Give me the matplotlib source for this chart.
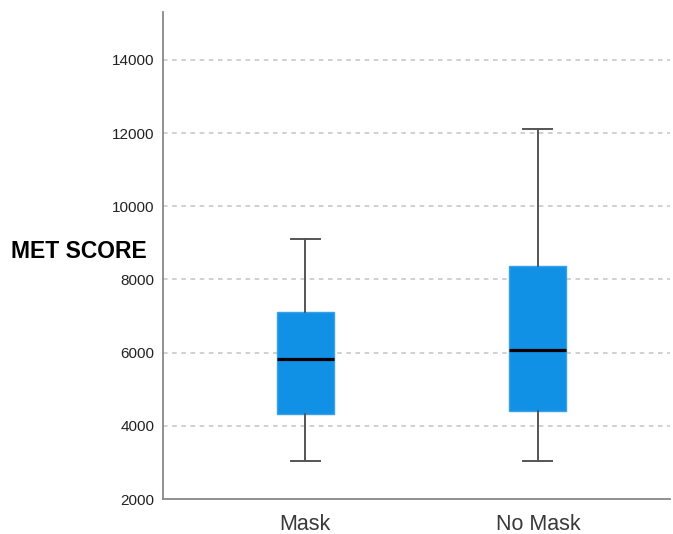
import matplotlib.pyplot as plt

# box plot summary values
groups = ["Mask", "No Mask"]
whisker_low = [3040, 3045]
q1 = [4315, 4405]
median = [5835, 6070]
q3 = [7100, 8375]
whisker_high = [9095, 12100]

plt.rcParams['font.family'] = ['Liberation Sans', 'DejaVu Sans']

stats = []
for i, name in enumerate(groups):
    stats.append({
        "label": name,
        "whislo": whisker_low[i],
        "q1": q1[i],
        "med": median[i],
        "q3": q3[i],
        "whishi": whisker_high[i],
        "fliers": [],
    })

fig = plt.figure(figsize=(6.73, 5.34), dpi=100)
ax = fig.add_axes([0.2422, 0.0655, 0.7533, 0.912])

ax.bxp(stats, positions=[1, 2], widths=0.245, patch_artist=True,
       showfliers=False,
       boxprops=dict(facecolor='#1191e6', edgecolor='#3aa0ea', linewidth=1.0),
       medianprops=dict(color='#000000', linewidth=2.3),
       whiskerprops=dict(color='#555555', linewidth=1.4),
       capprops=dict(color='#555555', linewidth=1.4),
       capwidths=0.125, zorder=3)

ax.set_xlim(0.39, 2.567)
ax.set_ylim(2000, 15310)
ax.set_yticks(range(2000, 14001, 2000))
for y in range(4000, 14001, 2000):
    ax.axhline(y, color='#c4c4c4', linestyle=(0, (3, 3)), linewidth=1.1, zorder=1)

ax.tick_params(axis='both', length=0)
ax.tick_params(axis='y', labelsize=11, labelcolor='#222222', pad=6)
ax.tick_params(axis='x', labelsize=15.5, labelcolor='#3a3a3a', pad=11)

for side in ['top', 'right']:
    ax.spines[side].set_visible(False)
for side in ['left', 'bottom']:
    ax.spines[side].set_color('#888888')
    ax.spines[side].set_linewidth(1.3)

fig.text(0.016, (534 - 252) / 534, "MET SCORE", fontsize=16.5, fontweight='bold',
         va='center', ha='left', color='#000000')

fig.savefig("out.png", dpi=100)
